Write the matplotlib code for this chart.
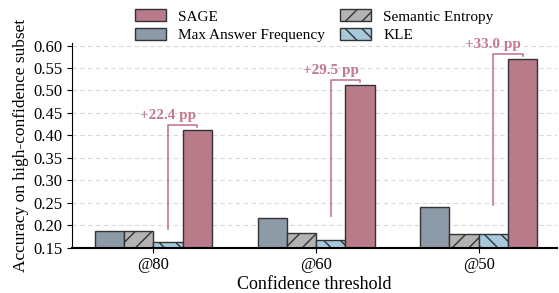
import numpy as np
import matplotlib
matplotlib.use('Agg')
import matplotlib.pyplot as plt

plt.rcParams['font.family'] = ['Liberation Serif', 'DejaVu Serif']
plt.rcParams['hatch.linewidth'] = 1.0

thresholds = ['@80', '@60', '@50']
methods = ['Max Answer Frequency', 'Semantic Entropy', 'KLE', 'SAGE']
maf = [0.188, 0.217, 0.240]
se = [0.188, 0.183, 0.180]
kle = [0.163, 0.167, 0.180]
sage = [0.412, 0.512, 0.570]
gains = ['+22.4 pp', '+29.5 pp', '+33.0 pp']

colors = ['#8d9aa7', '#b3b3b3', '#a8c8dc', '#b97a8a']
hatches = ['', '//', '\\\\', '']
ann_color = '#c47a8e'

fig = plt.figure(figsize=(5.59, 2.93), dpi=100)
ax = fig.add_axes([0.129, 0.155, 0.867, 0.697])

x = np.arange(len(thresholds))
w = 0.18
series = [maf, se, kle, sage]
bars = []
for i, vals in enumerate(series):
    b = ax.bar(x + (i - 1.5) * w, np.array(vals) - 0.15, w, bottom=0.15,
               color=colors[i], edgecolor='#333333', linewidth=1.0,
               hatch=hatches[i], label=methods[i], zorder=3)
    bars.append(b)

# brackets
for j in range(len(thresholds)):
    xl = x[j] + 0.5 * w
    xr = x[j] + 1.5 * w
    base = max(maf[j], se[j], kle[j]) + 0.004
    top = sage[j] + 0.012
    ax.plot([xl, xl, xr, xr], [base, top, top, sage[j] + 0.006],
            color=ann_color, lw=1.2, zorder=4)
    ax.text(xl, top + 0.006, gains[j], ha='center', va='bottom',
            color=ann_color, fontsize=11, fontweight='bold', zorder=5)

ax.set_ylim(0.15, 0.605)
ax.set_xlim(-0.5, 2.48)
ax.set_yticks(np.arange(0.15, 0.601, 0.05))
ax.set_yticklabels(['%.2f' % v for v in np.arange(0.15, 0.601, 0.05)])
ax.set_xticks(x)
ax.set_xticklabels(thresholds)
ax.tick_params(axis='both', labelsize=12)
ax.yaxis.grid(True, linestyle=(0, (4, 3)), color='#d9d9d9', linewidth=0.8, zorder=0)
ax.set_axisbelow(True)
ax.spines['top'].set_visible(False)
ax.spines['right'].set_visible(False)
ax.spines['bottom'].set_linewidth(1.5)
ax.spines['bottom'].set_zorder(6)
ax.set_xlabel('Confidence threshold', fontsize=13, labelpad=2)
ax.set_ylabel('Accuracy on high-confidence subset', fontsize=12.5, labelpad=3)

handles = [bars[3], bars[0], bars[1], bars[2]]
labels = ['SAGE', 'Max Answer Frequency', 'Semantic Entropy', 'KLE']
ax.legend(handles, labels, loc='lower center', bbox_to_anchor=(0.5, 0.975),
          ncol=2, frameon=False, fontsize=11, handlelength=2.0,
          handleheight=0.8, columnspacing=1.0, labelspacing=0.3,
          borderaxespad=0.0)

fig.savefig('out.png', dpi=100)
